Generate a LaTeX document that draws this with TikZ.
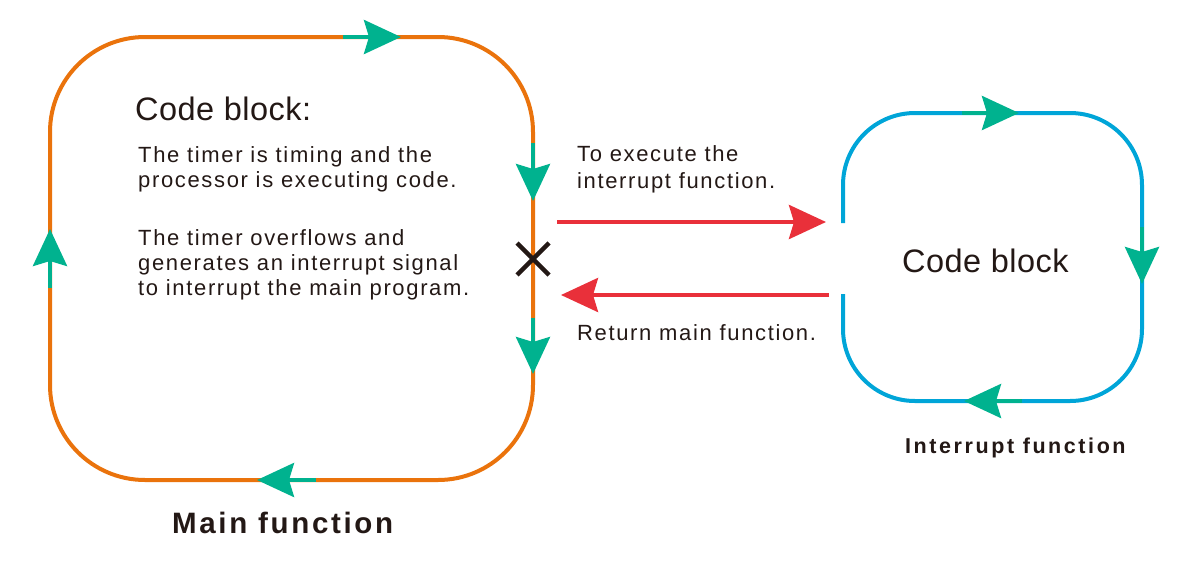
\documentclass[tikz,border=0pt]{standalone}
\usepackage{fontspec}
\setmainfont{Liberation Sans}
\newfontfamily\bodyfont[LetterSpace=7.5]{Liberation Sans}
\newfontfamily\headfont[LetterSpace=1.5]{Liberation Sans}
\newfontfamily\mainfnfont[LetterSpace=9]{Liberation Sans}
\newfontfamily\intfnfont[LetterSpace=12]{Liberation Sans}
\usetikzlibrary{arrows.meta}
\definecolor{orng}{RGB}{234,115,12}
\definecolor{teal2}{RGB}{0,178,143}
\definecolor{blu}{RGB}{0,165,216}
\definecolor{redd}{RGB}{233,48,58}
\definecolor{txt}{RGB}{35,24,21}
\tikzset{
  flowtip/.style={draw=teal2, line width=4pt, -{Stealth[length=37pt,width=34pt,inset=5pt,fill=teal2]}},
  redtip/.style={draw=redd, line width=4pt, -{Stealth[length=37pt,width=34pt,inset=5pt,fill=redd]}},
  body/.style={anchor=base west, inner sep=0pt, text=txt, font=\bodyfont\fontsize{22}{25}\selectfont, align=left},
  head/.style={anchor=base west, inner sep=0pt, text=txt, font=\headfont\fontsize{32.5}{36}\selectfont},
}
\begin{document}
\begin{tikzpicture}[x=1pt,y=-1pt]
\useasboundingbox (0,0) rectangle (1200,560);
% main loop
\draw[orng, line width=4pt, rounded corners=95pt] (50,37) rectangle (533,480);
\coordinate (t1) at (343,37); \coordinate (t1e) at (401,37);
\coordinate (r1) at (533,143); \coordinate (r1e) at (533,201);
\coordinate (r2) at (533,318); \coordinate (r2e) at (533,374);
\coordinate (b1) at (316,480); \coordinate (b1e) at (257,480);
\coordinate (l1) at (50,288); \coordinate (l1e) at (50,229);
\draw[flowtip] (t1) -- (t1e);
\draw[flowtip] (r1) -- (r1e);
\draw[flowtip] (r2) -- (r2e);
\draw[flowtip] (b1) -- (b1e);
\draw[flowtip] (l1) -- (l1e);
% cross
\node (x) at (533,259) {};
\draw[txt, line width=4.5pt] (517,243) -- (549,275) (517,275) -- (549,243);
% interrupt loop
\draw[blu, line width=4pt, rounded corners=72pt] (843,223) -- (843,113) -- (1142,113) -- (1142,401) -- (843,401) -- (843,294);
\coordinate (it) at (962,113); \coordinate (ite) at (1019,113);
\coordinate (ir) at (1142,227); \coordinate (ire) at (1142,284);
\coordinate (ib) at (1022,401); \coordinate (ibe) at (964,401);
\draw[flowtip] (it) -- (ite);
\draw[flowtip] (ir) -- (ire);
\draw[flowtip] (ib) -- (ibe);
% red arrows
\coordinate (ra) at (557,222); \coordinate (rae) at (826,222);
\coordinate (rb) at (829,295); \coordinate (rbe) at (561,295);
\draw[redtip] (ra) -- (rae);
\draw[redtip] (rb) -- (rbe);
% texts
\node[head] (cb1) at (135,120) {Code block:};
\node[body] (p1) at (138,187) {The timer is timing and the\\processor is executing code.};
\node[body] (p2) at (138,295) {The timer overflows and\\generates an interrupt signal\\to interrupt the main program.};
\node[body, font=\bodyfont\fontsize{22}{27}\selectfont] (exe) at (577,188) {To execute the\\interrupt function.};
\node[body] (ret) at (577,340) {Return main function.};
\node[head] (cb2) at (902,272) {Code block};
\node[body, font=\intfnfont\bfseries\fontsize{21.5}{26}\selectfont] (ifn) at (905,453) {Interrupt function};
\node[body, font=\mainfnfont\bfseries\fontsize{29.5}{32}\selectfont] (mfn) at (172,533) {Main function};
\end{tikzpicture}
\end{document}
